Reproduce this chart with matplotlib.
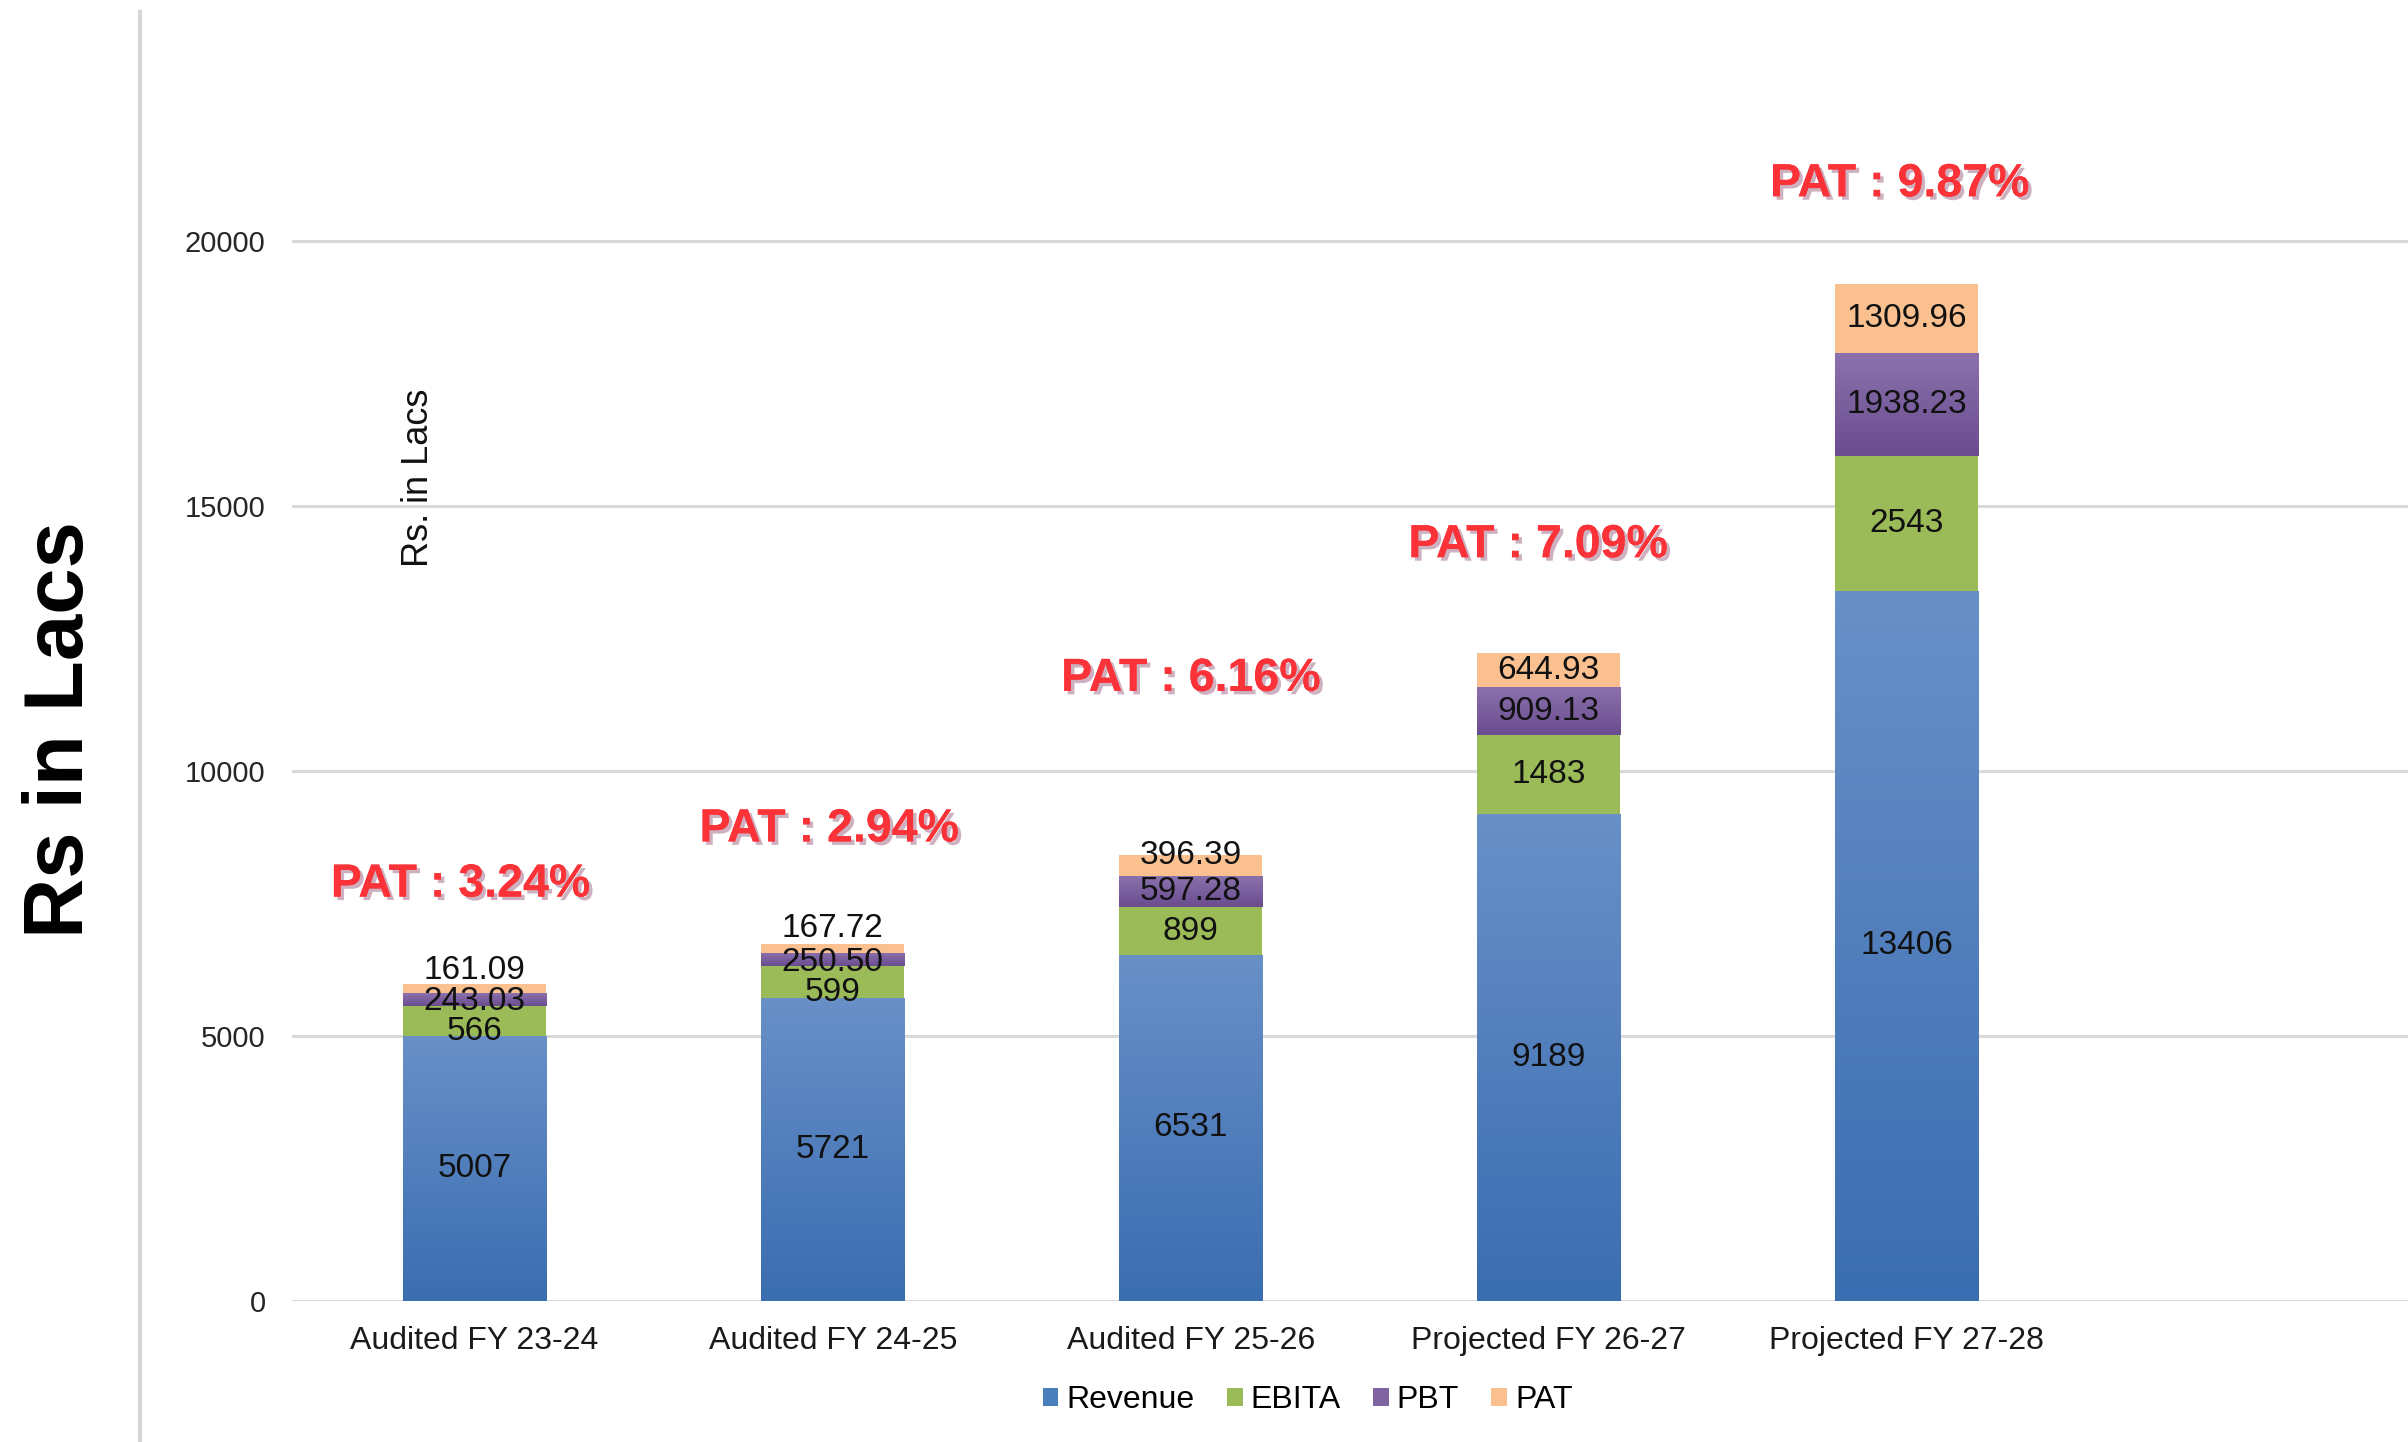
import matplotlib.pyplot as plt
import matplotlib.patheffects as pe
from matplotlib.colors import LinearSegmentedColormap
from matplotlib.patches import Patch
from matplotlib.lines import Line2D
import numpy as np

categories = ['Audited FY 23-24', 'Audited FY 24-25', 'Audited FY 25-26',
              'Projected FY 26-27', 'Projected FY 27-28']
revenue = [5007, 5721, 6531, 9189, 13406]
ebita = [566, 599, 899, 1483, 2543]
pbt = [243.03, 250.50, 597.28, 909.13, 1938.23]
pat = [161.09, 167.72, 396.39, 644.93, 1309.96]
pat_margin = [3.24, 2.94, 6.16, 7.09, 9.87]

series_names = ['Revenue', 'EBITA', 'PBT', 'PAT']
legend_colors = ['#4a7ebb', '#9bbb59', '#8064a2', '#fac090']

plt.rcParams['font.family'] = ['Liberation Sans', 'DejaVu Sans']

fig = plt.figure(figsize=(24.08, 14.42), dpi=100)
ax = fig.add_axes([0.1213, 0.0978, 0.8787, 0.882])

x = np.arange(len(categories))
width = 0.40

def fmt(v):
    return f'{v:.2f}' if v != int(v) else f'{int(v)}'

bottoms = np.zeros(len(categories))
stacks = [revenue, ebita, pbt, pat]
fills = ['#4f81bd', '#9bbb59', '#7a5e9f', '#fac090']
gradients = {
    0: ['#3a6db1', '#6990c7'],
    2: ['#6a4c8f', '#8b72ad'],
}
# small label nudges in pixels (Excel style overlap shifting)
nudges = {
    1: [-11, -11, 0, 0, 0],
    2: [-2, -3, 0, 0, 0],
    3: [18, 20, 10, 0, 0],
}

for si, vals in enumerate(stacks):
    vals = np.array(vals, dtype=float)
    bars = ax.bar(x, vals, width, bottom=bottoms, color=fills[si],
                  edgecolor='none', zorder=2)
    if si in gradients:
        cmap = LinearSegmentedColormap.from_list('g', gradients[si])
        grad = np.linspace(0, 1, 256).reshape(-1, 1)
        for b in bars:
            x0, y0 = b.get_x(), b.get_y()
            im = ax.imshow(grad, cmap=cmap, origin='lower', aspect='auto',
                           extent=[x0, x0 + b.get_width(), y0, y0 + b.get_height()],
                           zorder=2.5)
            im.set_clip_path(b)
    for i, v in enumerate(vals):
        dy = nudges.get(si, [0] * 5)[i]
        ax.annotate(fmt(v), (x[i], bottoms[i] + v / 2), xytext=(0, dy),
                    textcoords='offset pixels', ha='center', va='center',
                    fontsize=24, color='#111111', zorder=4)
    bottoms += vals

totals = bottoms
pat_gap = [1880, 2160, 3315, 2035, 1875]
pat_dx = [-0.04, -0.01, 0.0, -0.03, -0.02]
for i, m in enumerate(pat_margin):
    ax.text(x[i] + pat_dx[i], totals[i] + pat_gap[i], f'PAT : {m:.2f}%',
            ha='center', va='center', fontsize=33.5, fontweight='bold',
            color='#fb3338', zorder=5,
            path_effects=[pe.withSimplePatchShadow(offset=(2.5, -2.5),
                                                   shadow_rgbFace='#c9a9b9',
                                                   alpha=0.9),
                          pe.Normal()])

ax.set_xlim(-0.51, 5.40)
ax.set_ylim(0, 24000)
ax.set_yticks([0, 5000, 10000, 15000, 20000])
ax.set_xticks(x)
ax.set_xticklabels(categories, fontsize=23, color='#1a1a1a')
ax.tick_params(axis='y', labelsize=21, labelcolor='#262626', length=0, pad=19)
ax.tick_params(axis='x', length=0, pad=18)
ax.yaxis.grid(True, color='#d9d9d9', linewidth=2.2, zorder=0)
ax.set_axisbelow(True)
for s in ax.spines.values():
    s.set_visible(False)

handles = [Patch(facecolor=c, edgecolor='none') for c in legend_colors]
fig.legend(handles, series_names, loc='center', bbox_to_anchor=(0.543, 0.029),
           ncol=4, frameon=False, fontsize=23, handlelength=0.5,
           handleheight=0.5, handletextpad=0.25, columnspacing=1.0)

fig.text(0.1736, 0.6685, 'Rs. in Lacs', rotation=90, ha='center', va='center',
         fontsize=26, color='#111111')
fig.text(0.0253, 0.494, 'Rs in Lacs', rotation=90, ha='center', va='center',
         fontsize=60, fontweight='bold', color='black',
         family=['Liberation Sans Narrow', 'Liberation Sans'])

fig.add_artist(Line2D([0.0581, 0.0581], [0.0, 0.992], transform=fig.transFigure,
                      color='#d6d6d6', linewidth=3))

fig.savefig('out.png', dpi=100)
